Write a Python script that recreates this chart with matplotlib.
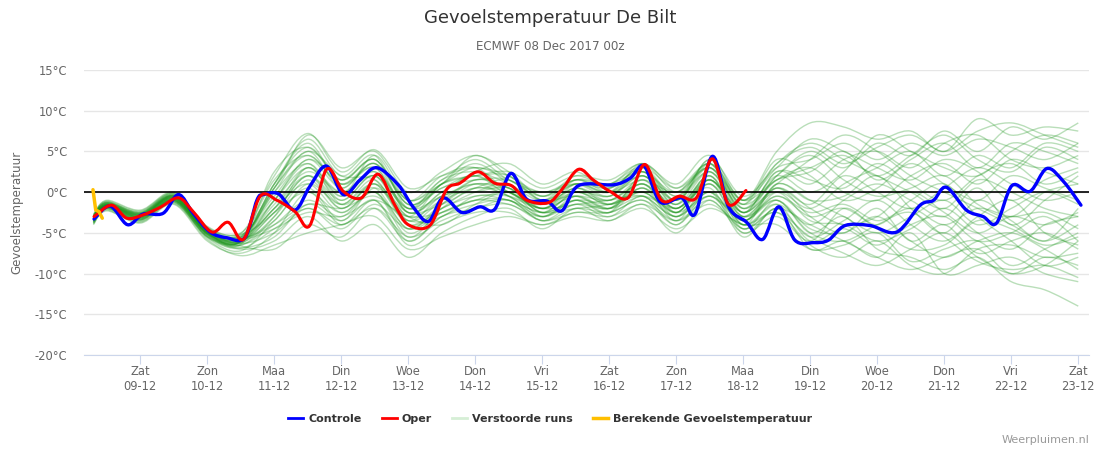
import numpy as np
import matplotlib
matplotlib.use('Agg')
import matplotlib.pyplot as plt
from matplotlib.path import Path
from matplotlib.patches import PathPatch
from matplotlib.lines import Line2D

# days since 08-12 00z
ctrl_days = [0.31, 0.55, 0.81, 1.04, 1.34, 1.57, 1.79, 2.04, 2.29, 2.56, 2.74, 2.84, 3.06, 3.31,
             3.53, 3.78, 4.03, 4.28, 4.53, 4.85, 5.07, 5.30, 5.52, 5.80, 6.07, 6.29, 6.53, 6.77,
             7.07, 7.29, 7.54, 8.06, 8.31, 8.52, 8.76, 9.08, 9.28, 9.54, 9.78, 10.05, 10.29, 10.53,
             10.77, 11.05, 11.27, 11.52, 11.89, 12.29, 12.64, 12.84, 13.03, 13.33, 13.58, 13.78,
             14.01, 14.28, 14.53, 14.78, 15.04]
ctrl_vals = [-3.3, -1.7, -4.0, -2.7, -2.6, -0.3, -2.6, -4.9, -5.6, -5.6, -1.0, -0.3, -0.2, -2.2,
             0.7, 3.2, -0.3, 1.5, 3.0, 0.9, -1.8, -3.6, -0.7, -2.5, -1.8, -2.1, 2.3, -0.9,
             -1.1, -2.3, 0.8, 0.9, 1.7, 3.2, -1.2, -0.7, -2.7, 4.4, -1.8, -3.7, -5.8, -1.8,
             -5.9, -6.2, -5.9, -4.1, -4.1, -4.9, -1.6, -1.0, 0.6, -2.2, -3.0, -3.8,
             0.8, 0.1, 2.9, 1.3, -1.6]

oper_days = [0.31, 0.57, 0.80, 1.04, 1.29, 1.57, 1.79, 2.07, 2.31, 2.54, 2.79, 3.04, 3.31, 3.53,
             3.78, 4.03, 4.30, 4.55, 4.80, 5.00, 5.32, 5.57, 5.77, 6.04, 6.29, 6.54, 6.77, 7.09,
             7.29, 7.54, 7.76, 8.01, 8.28, 8.53, 8.78, 9.05, 9.30, 9.54, 9.78, 10.04]
oper_vals = [-3.0, -1.6, -3.2, -2.8, -1.9, -0.7, -2.4, -4.9, -3.7, -5.8, -0.5, -1.0, -2.4, -4.1,
             2.8, 0.1, -0.7, 2.2, -1.6, -4.0, -4.1, 0.3, 1.1, 2.5, 1.1, 0.8, -1.0, -1.3,
             0.3, 2.8, 1.5, 0.1, -0.7, 3.4, -1.0, -0.5, -0.7, 4.1, -1.5, 0.2]

obs_days = [0.294, 0.335, 0.384, 0.433]
obs_vals = [0.3, -2.2, -2.4, -3.2]

ens_days = [0.3, 0.5, 1.0, 1.5, 2.0, 2.5, 3.0, 3.5, 4.0, 4.5, 5.0, 5.5, 6.0, 6.5, 7.0, 7.5,
            8.0, 8.5, 9.0, 9.5, 10.0, 10.5, 11.0, 11.5, 12.0, 12.5, 13.0, 13.5, 14.0, 14.5, 15.0]
ens_runs = [
    [-3.5, -1.5, -3.0, -0.5, -5.0, -6.0, 1.0, 6.5, 2.0, 4.5, -2.0, 1.0, 3.5, 1.0, -2.0, 1.0, 0.0, 2.5, -1.0, 3.0, -2.5, 2.0, 5.0, 3.0, 6.0, 4.5, 7.5, 5.0, 8.0, 6.5, 8.5],
    [-3.0, -1.2, -2.5, -0.3, -4.5, -5.5, -2.0, 3.0, -1.0, 2.0, -3.5, -1.0, 1.5, 0.5, -1.5, 0.5, -1.0, 1.5, -2.0, 2.0, -3.0, 0.5, -3.0, -5.0, -2.0, -6.0, -4.0, -7.5, -6.0, -5.0, -7.0],
    [-3.8, -2.0, -3.5, -1.2, -5.5, -6.5, -4.0, -1.0, -3.0, 0.0, -5.0, -2.5, -1.0, 0.0, -3.0, -1.0, -2.5, 0.5, -3.5, 1.0, -4.5, -1.0, -5.0, -3.0, -7.0, -8.0, -9.5, -8.0, -11.0, -12.0, -14.0],
    [-2.8, -1.0, -2.2, 0.0, -4.2, -5.0, 0.5, 7.0, 3.0, 5.0, 0.0, 2.5, 4.5, 2.5, -0.5, 2.0, 1.5, 3.5, 1.0, 4.5, -1.0, 5.0, 8.5, 8.0, 6.5, 7.5, 5.0, 9.0, 7.0, 8.0, 7.5],
    [-3.3, -1.8, -3.2, -1.0, -5.2, -7.0, -6.0, -3.0, -6.0, -4.0, -8.0, -5.0, -3.0, -2.0, -4.5, -2.0, -3.5, -1.5, -5.0, -1.0, -5.0, -3.0, -6.0, -2.0, -4.0, -1.0, 1.0, -3.0, -6.0, -9.0, -8.0],
    [-3.6, -1.6, -2.8, -0.7, -4.8, -5.8, -1.0, 4.0, 0.5, 3.5, -1.5, 0.5, 2.0, -0.5, -2.5, 0.0, -0.5, 2.0, -1.5, 2.5, -2.0, 1.5, 3.0, 0.0, -1.0, 2.0, 3.5, 1.0, 4.0, 2.5, 1.0],
    [-3.1, -1.4, -2.6, -0.4, -4.6, -6.2, -3.0, 1.5, -2.0, 1.0, -2.5, -1.5, 0.5, 1.5, -1.0, -0.5, -2.0, 1.0, -3.0, 1.5, -3.5, 0.0, -2.0, 1.0, 3.0, 5.0, 2.0, 4.5, 3.0, 6.0, 5.0],
    [-4.0, -2.2, -3.8, -1.5, -6.0, -7.5, -5.0, 0.0, -4.0, -1.0, -6.0, -3.0, -1.5, -1.0, -3.5, -1.5, -3.0, -0.5, -4.0, 0.0, -5.5, -2.0, -7.0, -6.0, -8.0, -5.0, -10.0, -9.0, -8.0, -10.0, -11.0],
    [-3.2, -1.7, -3.0, -0.9, -5.0, -6.0, 2.5, 5.5, 1.5, 4.0, -1.0, 2.0, 3.0, 0.0, -1.5, 1.5, 1.0, 2.5, 0.0, 3.5, -1.5, 3.5, 6.0, 4.0, 2.0, 0.0, -2.0, 1.5, 0.0, -2.0, -3.0],
    [-2.9, -1.3, -2.4, -0.2, -4.4, -5.2, -2.5, 2.0, -1.5, 1.5, -4.0, -2.0, 0.0, 1.0, -2.0, 0.5, -1.5, 0.0, -2.5, 1.0, -4.0, -1.5, -4.0, -1.0, 1.0, -1.0, -3.0, 0.5, -4.0, -1.0, 2.0],
    [-3.4, -1.9, -3.3, -1.1, -5.4, -6.6, -7.0, -4.0, -5.5, -2.0, -5.5, -3.5, -2.0, -1.5, -3.5, -2.5, -2.5, -1.0, -3.5, -1.5, -4.0, -2.5, -5.5, -7.5, -9.0, -7.0, -5.0, -8.0, -10.0, -9.0, -6.0],
    [-3.0, -1.5, -2.7, -0.6, -4.7, -5.5, 1.5, 4.5, 1.0, 3.0, -2.5, 0.0, 2.5, 3.5, 1.0, 2.5, 0.5, 3.0, -0.5, 3.5, -2.5, 2.5, 1.0, 4.0, 5.0, 3.0, 6.0, 7.0, 4.0, 3.0, 4.5],
    [-3.7, -2.1, -3.6, -1.3, -5.6, -7.2, -3.5, 0.5, -3.5, 0.5, -3.0, -4.0, -1.5, 0.0, -2.5, -1.0, -2.0, 1.5, -2.0, 2.0, -3.5, 1.0, -1.0, -3.0, -5.0, -3.0, -1.0, -4.0, -2.0, 0.0, -1.5],
    [-3.3, -1.6, -2.9, -0.8, -4.9, -5.6, 0.0, 3.5, -0.5, 4.5, -1.0, 1.5, 4.0, 1.5, 0.0, 1.0, -0.5, 2.0, -1.0, 4.0, -0.5, 3.0, 4.0, 6.0, 4.0, 6.0, 4.5, 6.5, 5.5, 4.0, 6.0],
    [-3.5, -1.7, -3.1, -0.9, -5.1, -6.3, -5.0, -2.0, -4.5, -1.5, -4.5, -2.0, -0.5, -0.5, -2.0, -1.5, -1.0, -0.5, -3.0, -0.5, -3.5, -1.0, -4.5, -5.0, -3.0, -6.0, -8.0, -6.0, -5.0, -7.0, -9.5],
    [-2.7, -1.1, -2.3, -0.1, -4.3, -5.1, 2.0, 7.2, 2.5, 5.2, 0.5, 2.0, 3.0, 2.0, -0.5, 1.0, 0.0, 3.5, 0.5, 3.0, -1.5, 4.0, 2.0, -1.0, 0.5, 3.5, 1.0, -1.0, 2.0, 0.5, -1.0],
    [-3.9, -2.3, -3.7, -1.4, -5.8, -7.8, -6.5, -5.0, -4.0, -3.0, -7.0, -5.5, -4.0, -3.0, -4.0, -3.0, -3.5, -2.0, -4.5, -2.0, -4.0, -4.0, -7.0, -6.5, -5.0, -8.5, -7.0, -6.0, -9.0, -7.0, -5.0],
    [-3.2, -1.5, -2.8, -0.5, -4.8, -5.9, -1.5, 2.5, 0.0, 2.5, -2.0, -0.5, 1.0, 0.5, -1.5, 0.0, -1.0, 1.0, -1.5, 1.5, -2.5, 0.5, -1.5, 2.0, 0.0, -2.0, 0.5, 3.0, 1.0, -1.0, 0.0],
    [-3.1, -1.6, -3.0, -0.7, -5.0, -6.1, -2.0, 1.0, -2.5, 0.0, -5.5, -2.0, 0.5, -0.5, -3.0, -0.5, -2.0, -0.5, -2.0, 0.5, -5.0, -2.0, -5.5, -3.5, -1.0, -4.0, -6.0, -3.0, -1.0, -5.0, -6.5],
    [-3.6, -1.8, -3.4, -1.0, -5.3, -6.4, 0.5, 5.0, 2.0, 1.5, -3.0, 1.0, 2.0, 2.0, -1.0, 1.0, 0.5, 2.5, -0.5, 2.5, -2.0, 2.0, 0.0, 2.5, 7.0, 5.0, 3.0, 2.0, 5.0, 7.0, 6.0],
    [-3.0, -1.4, -2.6, -0.4, -4.6, -5.7, -4.0, -1.5, -2.0, -0.5, -3.5, -3.0, -0.5, -1.0, -2.5, -2.0, -1.5, 0.0, -2.5, -0.5, -3.0, 0.0, -3.5, -4.0, -6.0, -4.5, -2.0, -5.0, -7.0, -4.0, -3.0],
    [-3.4, -1.7, -3.1, -0.8, -5.0, -6.0, 1.0, 6.0, 1.0, 3.0, -2.0, 1.5, 2.5, 1.0, -1.0, 1.5, 0.0, 1.5, 0.0, 3.0, -1.0, 3.0, 6.5, 5.0, 3.0, 1.5, 4.0, 2.5, -1.0, 1.5, 3.0],
    [-3.8, -2.0, -3.4, -1.2, -5.4, -6.8, -5.5, -1.5, -3.5, -1.0, -6.5, -4.0, -2.5, -2.5, -4.0, -2.5, -3.0, -1.5, -3.5, -1.0, -4.5, -2.5, -6.5, -8.0, -6.0, -9.0, -10.0, -7.0, -6.5, -8.0, -7.5],
    [-2.9, -1.2, -2.5, -0.2, -4.5, -5.3, -0.5, 4.0, 1.5, 4.0, -1.5, 1.0, 4.5, 2.0, 0.0, 1.5, 1.0, 3.0, -1.0, 3.5, -1.0, 1.5, 2.5, 5.0, 1.5, 4.0, 6.0, 3.0, 6.0, 5.0, 3.5],
    [-3.3, -1.5, -2.9, -0.6, -4.9, -6.0, -2.5, 2.0, -1.0, 2.0, -3.0, -1.0, 0.5, 0.0, -2.0, 0.0, -1.5, 0.5, -2.0, 1.0, -3.0, -0.5, -2.5, -1.5, -3.5, -2.0, -4.0, -2.0, -3.0, -2.5, -4.5],
    [-3.5, -1.9, -3.3, -1.0, -5.2, -6.5, -3.0, 3.0, -1.5, 0.5, -4.5, -1.5, 1.5, 0.5, -2.5, -1.0, -2.5, 2.0, -2.5, 2.0, -4.0, 1.0, -1.0, -0.5, 2.0, -2.0, -5.0, -1.0, -3.5, -6.0, -2.0],
    [-3.2, -1.6, -2.8, -0.7, -4.7, -5.6, 0.0, 5.0, 0.5, 3.5, -2.5, 0.0, 2.0, 0.0, -1.5, 0.5, -0.5, 2.5, -1.5, 4.0, -2.0, 2.0, 4.5, 1.5, -0.5, 0.5, 2.0, -1.5, -3.0, 0.0, 1.0],
    [-3.0, -1.3, -2.7, -0.5, -4.8, -5.8, -4.5, -2.5, -3.0, -1.0, -3.0, -2.5, -1.0, -1.0, -3.0, -1.5, -2.0, 0.0, -3.0, 0.0, -3.5, -0.5, -3.0, -2.0, -4.5, -7.0, -6.5, -3.5, -4.5, -6.5, -5.5],
    [-3.4, -1.6, -3.0, -0.7, -5.1, -6.2, -1.0, 3.5, -0.5, 2.5, -2.5, -0.5, 1.0, -0.5, -2.0, -0.5, -1.0, 1.0, -2.0, 1.5, -2.5, 1.0, 4.0, 7.0, 5.0, 2.0, 0.0, -2.0, -4.0, -6.0, -4.0],
    [-3.1, -1.4, -2.7, -0.5, -4.7, -5.7, -3.5, 1.0, -1.5, 1.0, -3.5, -0.5, 0.0, 0.5, -2.5, 0.0, -1.5, 1.0, -2.5, 1.5, -3.0, -1.0, -5.0, -6.0, -4.0, -2.5, -5.5, -8.5, -9.5, -9.0, -10.5],
    [-3.6, -1.8, -3.2, -0.9, -5.2, -6.1, 0.5, 4.5, 1.0, 3.5, -1.0, 1.0, 3.0, 1.5, -0.5, 1.5, 0.5, 3.0, 0.5, 3.5, -1.0, 3.5, 5.5, 3.5, 5.5, 7.0, 5.0, 7.5, 8.5, 7.0, 5.5],
    [-3.3, -1.7, -3.1, -0.8, -5.0, -6.0, -2.0, 2.0, -2.0, 1.0, -4.0, -1.5, 1.0, 0.0, -2.0, -0.5, -2.0, 0.5, -2.5, 1.5, -3.5, 0.5, -2.0, -4.0, -3.0, 0.0, -2.5, -5.0, -3.0, -4.0, -2.5],
    [-2.9, -1.3, -2.6, -0.4, -4.6, -5.4, -1.0, 3.0, 0.0, 2.0, -2.0, 0.5, 1.5, 1.5, -1.0, 1.0, 0.0, 2.0, -1.0, 2.5, -2.5, 2.5, 1.5, 0.5, 3.5, 1.0, -1.0, 2.0, 3.5, 1.0, 2.5],
    [-3.7, -2.0, -3.4, -1.1, -5.5, -6.9, -4.5, -2.0, -4.0, -2.0, -6.0, -3.0, -2.0, -1.0, -3.5, -2.0, -2.5, -1.0, -4.0, -0.5, -4.5, -2.0, -4.0, -6.0, -8.0, -9.5, -8.0, -7.0, -10.0, -8.0, -9.0],
    [-3.2, -1.5, -2.8, -0.6, -4.8, -5.9, 1.0, 5.5, 1.5, 4.0, -1.5, 1.0, 2.0, 2.5, 0.5, 2.0, 1.0, 3.5, 0.0, 3.0, -1.5, 1.5, 3.0, 4.5, 2.0, 4.5, 7.0, 4.0, 2.5, 5.5, 4.0],
    [-3.4, -1.8, -3.2, -1.0, -5.1, -6.3, -2.5, 0.0, -2.5, 0.0, -4.5, -2.5, -1.0, -1.5, -3.0, -1.0, -1.5, -0.5, -3.0, 0.0, -4.0, -1.5, -6.0, -4.5, -6.5, -4.0, -3.0, -6.0, -5.0, -3.0, -6.0],
]

tick_days = list(range(1, 16))
tick_labels = ['Zat\n09-12', 'Zon\n10-12', 'Maa\n11-12', 'Din\n12-12', 'Woe\n13-12',
               'Don\n14-12', 'Vri\n15-12', 'Zat\n16-12', 'Zon\n17-12', 'Maa\n18-12',
               'Din\n19-12', 'Woe\n20-12', 'Don\n21-12', 'Vri\n22-12', 'Zat\n23-12']
y_ticks = [-20, -15, -10, -5, 0, 5, 10, 15]


def spline(xs, ys):
    # cubic bezier through the points (catmull-rom), like the spline series
    n = len(xs)
    verts = [(xs[0], ys[0])]
    codes = [Path.MOVETO]
    for i in range(n - 1):
        xa, ya = (xs[i - 1], ys[i - 1]) if i > 0 else (xs[i], ys[i])
        xb, yb = (xs[i + 2], ys[i + 2]) if i + 2 < n else (xs[i + 1], ys[i + 1])
        c1 = (xs[i] + (xs[i + 1] - xa) / 6, ys[i] + (ys[i + 1] - ya) / 6)
        c2 = (xs[i + 1] - (xb - xs[i]) / 6, ys[i + 1] - (yb - ys[i]) / 6)
        verts += [c1, c2, (xs[i + 1], ys[i + 1])]
        codes += [Path.CURVE4] * 3
    return Path(verts, codes)


fig = plt.figure(figsize=(11, 4.5), dpi=100)
ax = fig.add_axes([84 / 1100, 1 - 355 / 450, (1089 - 84) / 1100, (355 - 70) / 450])

for run in ens_runs:
    ax.add_patch(PathPatch(spline(ens_days, run), fill=False, edgecolor='#1a941a',
                           lw=1, alpha=0.3, zorder=2))

ax.axhline(0, color='black', lw=1.2, zorder=3)
ax.add_patch(PathPatch(spline(ctrl_days, ctrl_vals), fill=False, edgecolor='#0000ff',
                       lw=2.4, zorder=5, capstyle='round', joinstyle='round'))
ax.add_patch(PathPatch(spline(oper_days, oper_vals), fill=False, edgecolor='#ff0000',
                       lw=2.2, zorder=6, capstyle='round', joinstyle='round'))
ax.plot(obs_days, obs_vals, color='#ffbf00', lw=2.5, zorder=7, solid_capstyle='round')

ax.set_xlim(0.16, 15.16)
ax.set_ylim(-20, 15)
ax.set_yticks(y_ticks)
ax.set_yticklabels(['%d°C' % v for v in y_ticks])
ax.set_xticks(tick_days)
ax.set_xticklabels(tick_labels, linespacing=1.2)
ax.grid(axis='y', color='#e6e6e6', lw=1)
ax.set_axisbelow(True)
for s in ['top', 'right', 'left']:
    ax.spines[s].set_visible(False)
ax.spines['bottom'].set_color('#ccd6eb')
ax.tick_params(axis='y', length=0, pad=12, labelsize=8.3, labelcolor='#666666')
ax.tick_params(axis='x', length=6.5, color='#ccd6eb', pad=0.5, labelsize=8.3, labelcolor='#666666')
ax.set_ylabel('Gevoelstemperatuur', fontsize=8.6, color='#666666', labelpad=8)

fig.text(0.5, 1 - 18 / 450, 'Gevoelstemperatuur De Bilt', ha='center', va='center',
         fontsize=13, color='#333333')
fig.text(0.5, 1 - 47 / 450, 'ECMWF 08 Dec 2017 00z', ha='center', va='center',
         fontsize=8.6, color='#666666')
fig.text(1090 / 1100, 1 - 440 / 450, 'Weerpluimen.nl', ha='right', va='center',
         fontsize=8, color='#999999')

handles = [Line2D([], [], color='#0000ff', lw=2),
           Line2D([], [], color='#ff0000', lw=2),
           Line2D([], [], color='#d6efd6', lw=2),
           Line2D([], [], color='#ffbf00', lw=2.5)]
labels = ['Controle', 'Oper', 'Verstoorde runs', 'Berekende Gevoelstemperatuur']
fig.legend(handles, labels, loc='center', bbox_to_anchor=(0.5, 1 - 419 / 450), ncol=4,
           frameon=False, handlelength=1.35, handletextpad=0.45, columnspacing=1.8,
           prop={'weight': 'bold', 'size': 8.0}, labelcolor='#333333')

fig.savefig('out.png', dpi=100)
